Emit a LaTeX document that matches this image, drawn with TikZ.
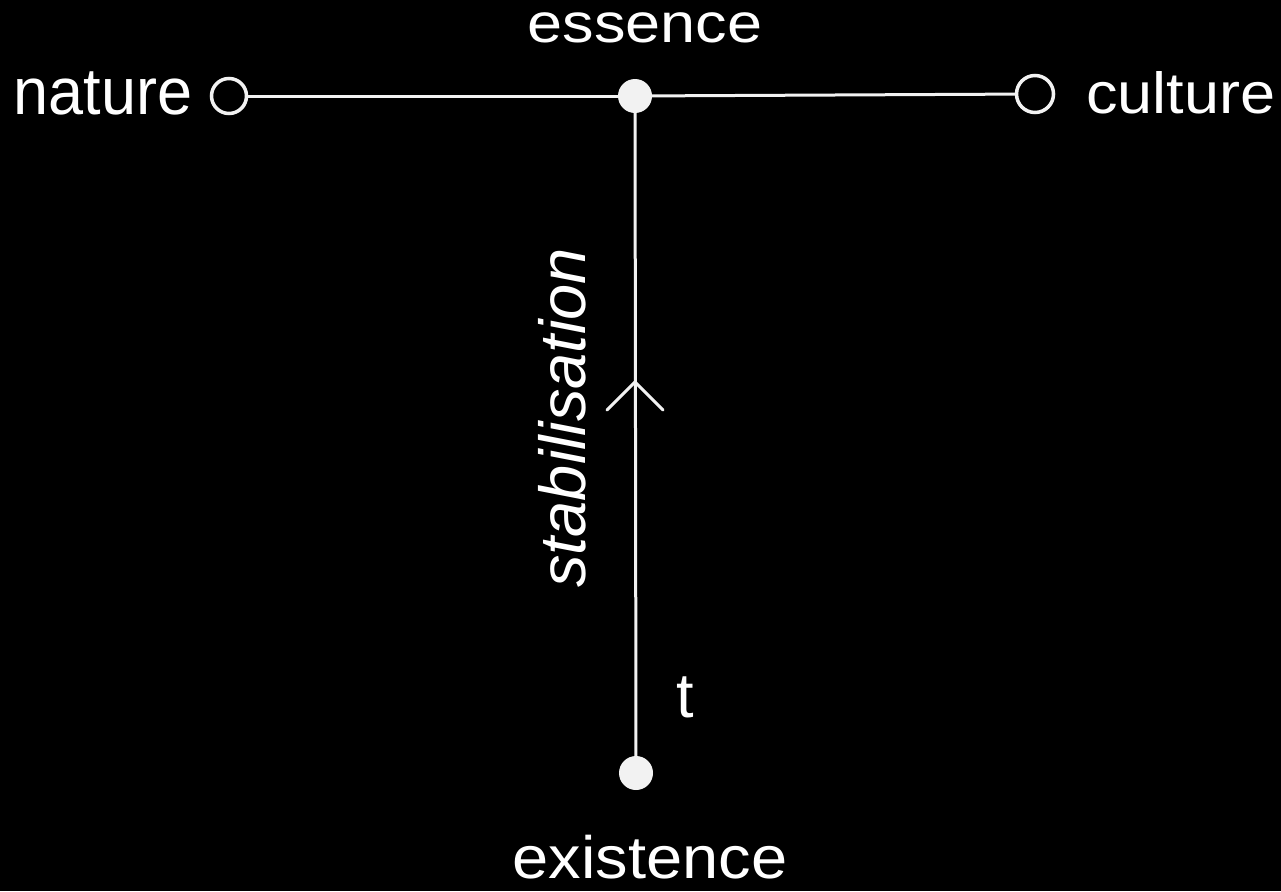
\documentclass[tikz,border=0pt]{standalone}
\usepackage{fontspec}
\setmainfont{Liberation Sans}
\newcommand\vsq[2][0.92]{\scalebox{1}[#1]{#2}}
\begin{document}
\begin{tikzpicture}[x=1pt,y=-1pt,
  lbl/.style={text=white,inner sep=0pt,anchor=base,font=\fontsize{63}{70}\selectfont},
  opendot/.style={circle,draw=white!95!black,line width=3.5pt,fill=black,minimum size=35pt,inner sep=0pt},
  fulldot/.style={circle,fill=white!95!black,minimum size=34pt,inner sep=0pt},
  conn/.style={draw=white!95!black,line width=3pt},
  chev/.style={draw=white!95!black,line width=3pt,line cap=round,line join=miter}]
\fill[black] (0,0) rectangle (1281,891);
\useasboundingbox (0,0) rectangle (1281,891);
\node[opendot] (nature) at (229,96) {};
\node[opendot,minimum size=37pt] (culture) at (1035,94) {};
\node[fulldot] (essence) at (635,96) {};
\node[fulldot] (existence) at (636,773) {};
\draw[conn] (nature) -- (essence);
\draw[conn] (essence) -- (culture);
\draw[conn] (existence) -- (essence);
\coordinate (tip) at (635,382);
\coordinate (wl) at (607,410);
\coordinate (wr) at (663,410);
\draw[chev] (wl) -- (tip) -- (wr);
\node[lbl] (tnature) at (103,114) {\vsq[1.05]{nature}};
\node[lbl] (tessence) at (645,42) {\vsq[0.88]{essence}};
\node[lbl] (tculture) at (1181,113) {\vsq{culture}};
\node[lbl,font=\fontsize{65}{70}\selectfont] (texistence) at (650,878) {\vsq{existence}};
\node[lbl] (tt) at (685,717) {t};
\node[lbl,rotate=90,font=\fontsize{65}{70}\selectfont\itshape] (tstab) at (585,418) {stabilisation};
\end{tikzpicture}
\end{document}
